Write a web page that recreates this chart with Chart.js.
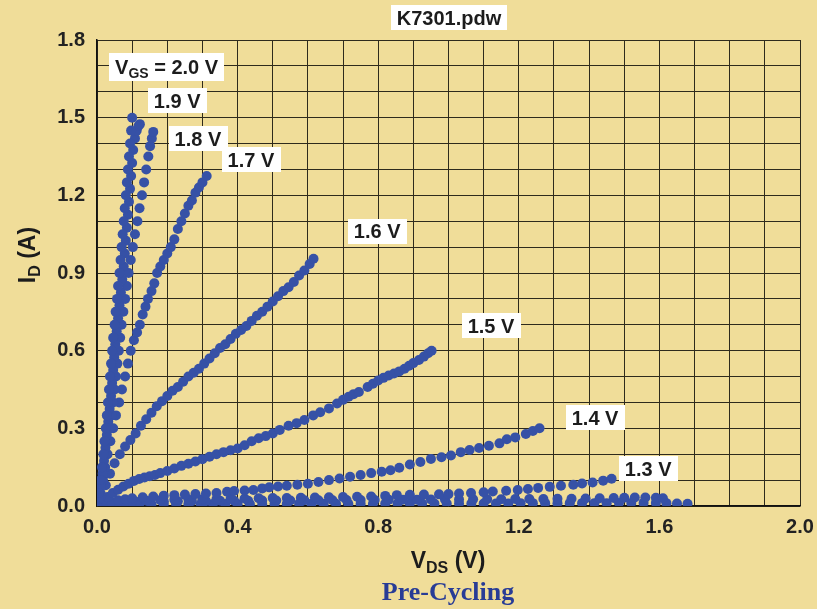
<!DOCTYPE html>
<html>
<head>
<meta charset="utf-8">
<script src="https://cdn.jsdelivr.net/npm/chart.js@4.4.1/dist/chart.umd.min.js"></script>
<style>
  html, body { margin: 0; padding: 0; background: #f0dd99; }
  canvas { display: block; }
</style>
</head>
<body>
<canvas id="chart" width="817" height="609"></canvas>
<script>
// I-V curves, [V_DS (V), I_D (A)]
const vgs20 = [[0,0],[0.006,0.05],[0.01,0.1],[0.014,0.15],[0.018,0.2],[0.021,0.25],[0.025,0.3],[0.028,0.35],[0.031,0.4],[0.034,0.45],[0.037,0.5],[0.04,0.55],[0.043,0.6],[0.046,0.65],[0.05,0.7],[0.053,0.75],[0.057,0.8],[0.06,0.85],[0.064,0.9],[0.067,0.95],[0.07,1.0],[0.073,1.05],[0.076,1.1],[0.079,1.15],[0.082,1.2],[0.085,1.25],[0.088,1.3],[0.091,1.35],[0.094,1.4],[0.097,1.45],[0.1,1.5]];
const vgs19 = [[0,0],[0.005,0.025],[0.011,0.075],[0.016,0.125],[0.02,0.175],[0.024,0.225],[0.028,0.275],[0.032,0.325],[0.036,0.375],[0.04,0.425],[0.043,0.475],[0.046,0.525],[0.049,0.575],[0.052,0.625],[0.056,0.675],[0.06,0.725],[0.064,0.775],[0.068,0.825],[0.072,0.875],[0.076,0.925],[0.079,0.975],[0.082,1.025],[0.085,1.075],[0.088,1.125],[0.091,1.175],[0.094,1.225],[0.097,1.275],[0.1,1.325],[0.103,1.375],[0.108,1.42],[0.113,1.45],[0.118,1.468],[0.122,1.475]];
const vgs18 = [[0,0],[0.01,0.05],[0.017,0.1],[0.023,0.15],[0.028,0.2],[0.033,0.25],[0.038,0.3],[0.042,0.35],[0.046,0.4],[0.05,0.45],[0.054,0.5],[0.058,0.55],[0.062,0.6],[0.066,0.65],[0.07,0.7],[0.075,0.75],[0.08,0.8],[0.085,0.85],[0.09,0.9],[0.096,0.95],[0.102,1.0],[0.108,1.05],[0.115,1.1],[0.121,1.15],[0.128,1.2],[0.134,1.25],[0.14,1.3],[0.146,1.35],[0.151,1.39],[0.156,1.42],[0.16,1.445]];
const vgs17 = [[0,0],[0.008,0.05],[0.015,0.1],[0.022,0.15],[0.03,0.2],[0.038,0.25],[0.046,0.3],[0.054,0.35],[0.063,0.4],[0.071,0.45],[0.08,0.5],[0.088,0.55],[0.096,0.6],[0.105,0.64],[0.114,0.67],[0.122,0.7],[0.13,0.74],[0.138,0.77],[0.145,0.8],[0.155,0.83],[0.163,0.86],[0.171,0.9],[0.18,0.925],[0.19,0.95],[0.2,0.975],[0.21,1.0],[0.22,1.03],[0.23,1.07],[0.24,1.1],[0.25,1.13],[0.26,1.16],[0.27,1.18],[0.28,1.21],[0.29,1.23],[0.3,1.25],[0.312,1.275]];
const vgs16 = [[0,0],[0.012,0.04],[0.025,0.08],[0.037,0.125],[0.05,0.165],[0.065,0.2],[0.08,0.23],[0.095,0.255],[0.11,0.28],[0.125,0.31],[0.14,0.335],[0.155,0.36],[0.17,0.385],[0.185,0.405],[0.2,0.425],[0.215,0.445],[0.23,0.46],[0.245,0.48],[0.26,0.5],[0.275,0.515],[0.29,0.53],[0.305,0.55],[0.32,0.57],[0.335,0.59],[0.35,0.61],[0.365,0.625],[0.38,0.645],[0.395,0.665],[0.41,0.68],[0.425,0.695],[0.44,0.715],[0.455,0.735],[0.47,0.75],[0.485,0.77],[0.5,0.79],[0.515,0.81],[0.53,0.83],[0.545,0.845],[0.56,0.865],[0.575,0.89],[0.59,0.91],[0.605,0.935],[0.616,0.955]];
const vgs15 = [[0,0],[0.015,0.02],[0.03,0.035],[0.045,0.05],[0.06,0.063],[0.075,0.075],[0.09,0.086],[0.105,0.097],[0.12,0.104],[0.135,0.11],[0.15,0.115],[0.165,0.12],[0.18,0.127],[0.2,0.135],[0.22,0.145],[0.24,0.155],[0.26,0.163],[0.28,0.172],[0.3,0.181],[0.32,0.19],[0.34,0.2],[0.36,0.208],[0.38,0.215],[0.4,0.222],[0.42,0.235],[0.44,0.25],[0.46,0.262],[0.48,0.27],[0.5,0.28],[0.52,0.294],[0.545,0.31],[0.568,0.32],[0.59,0.332],[0.615,0.35],[0.635,0.362],[0.66,0.377],[0.683,0.396],[0.7,0.41],[0.716,0.422],[0.73,0.432],[0.745,0.44],[0.77,0.46],[0.785,0.472],[0.8,0.485],[0.815,0.495],[0.83,0.504],[0.845,0.512],[0.86,0.52],[0.875,0.53],[0.888,0.542],[0.9,0.552],[0.916,0.564],[0.93,0.577],[0.942,0.59],[0.952,0.6]];
const vgs14 = [[0,0],[0.02,0.01],[0.04,0.016],[0.06,0.022],[0.08,0.026],[0.1,0.03],[0.13,0.034],[0.16,0.037],[0.19,0.04],[0.22,0.042],[0.25,0.044],[0.28,0.046],[0.31,0.048],[0.34,0.05],[0.37,0.055],[0.39,0.058],[0.42,0.06],[0.445,0.062],[0.47,0.068],[0.49,0.072],[0.515,0.075],[0.54,0.078],[0.57,0.082],[0.6,0.086],[0.63,0.093],[0.66,0.1],[0.69,0.106],[0.72,0.113],[0.75,0.12],[0.78,0.127],[0.81,0.132],[0.835,0.138],[0.86,0.148],[0.89,0.16],[0.92,0.17],[0.95,0.182],[0.98,0.188],[1.007,0.195],[1.035,0.208],[1.06,0.216],[1.087,0.224],[1.115,0.233],[1.145,0.242],[1.166,0.258],[1.19,0.265],[1.22,0.278],[1.24,0.29],[1.259,0.3]];
const vgs13 = [[0,0],[0.03,0.01],[0.06,0.015],[0.1,0.018],[0.14,0.02],[0.18,0.022],[0.22,0.024],[0.26,0.025],[0.3,0.026],[0.34,0.027],[0.38,0.028],[0.42,0.029],[0.46,0.03],[0.5,0.031],[0.54,0.031],[0.58,0.032],[0.62,0.033],[0.66,0.034],[0.7,0.035],[0.74,0.036],[0.78,0.037],[0.82,0.039],[0.853,0.042],[0.89,0.043],[0.93,0.044],[0.973,0.045],[1.0,0.046],[1.03,0.048],[1.064,0.05],[1.1,0.053],[1.126,0.056],[1.164,0.059],[1.197,0.062],[1.226,0.066],[1.255,0.07],[1.288,0.074],[1.32,0.078],[1.355,0.082],[1.38,0.087],[1.41,0.091],[1.44,0.098],[1.464,0.105]];
const vgs12 = [[0,0],[0.02,0.008],[0.05,0.012],[0.08,0.015],[0.11,0.016],[0.15,0.017],[0.19,0.018],[0.23,0.018],[0.27,0.019],[0.31,0.019],[0.35,0.02],[0.39,0.02],[0.43,0.02],[0.47,0.021],[0.51,0.021],[0.55,0.021],[0.59,0.022],[0.63,0.022],[0.67,0.022],[0.71,0.023],[0.75,0.023],[0.79,0.023],[0.83,0.024],[0.87,0.024],[0.91,0.024],[0.95,0.025],[0.99,0.025],[1.03,0.025],[1.07,0.026],[1.11,0.026],[1.15,0.026],[1.19,0.027],[1.23,0.027],[1.27,0.027],[1.31,0.028],[1.35,0.028],[1.39,0.029],[1.43,0.03],[1.47,0.031],[1.5,0.032],[1.53,0.033],[1.56,0.033],[1.59,0.032],[1.61,0.03]];
const vgs11 = [[0,0],[0.03,0.005],[0.06,0.006],[0.09,0.007],[0.12,0.007],[0.155,0.007],[0.19,0.008],[0.225,0.008],[0.26,0.008],[0.295,0.008],[0.33,0.008],[0.365,0.008],[0.4,0.008],[0.435,0.008],[0.47,0.008],[0.505,0.009],[0.54,0.009],[0.575,0.009],[0.61,0.009],[0.645,0.009],[0.68,0.009],[0.715,0.009],[0.75,0.009],[0.785,0.009],[0.82,0.01],[0.855,0.01],[0.89,0.01],[0.925,0.01],[0.96,0.01],[0.995,0.01],[1.03,0.01],[1.065,0.01],[1.1,0.01],[1.135,0.01],[1.17,0.01],[1.205,0.011],[1.24,0.011],[1.275,0.011],[1.31,0.011],[1.345,0.011],[1.38,0.011],[1.415,0.011],[1.45,0.011],[1.485,0.012],[1.52,0.012],[1.555,0.012],[1.59,0.012],[1.62,0.011],[1.65,0.01],[1.68,0.009]];

const curves = [vgs20, vgs19, vgs18, vgs17, vgs16, vgs15, vgs14, vgs13, vgs12, vgs11];

// curve labels and where their boxes sit (data units)
const labelText = ['2.0 V', '1.9 V', '1.8 V', '1.7 V', '1.6 V', '1.5 V', '1.4 V', '1.3 V'];
const labelVds = [0.198, 0.228, 0.287, 0.438, 0.797, 1.121, 1.417, 1.568];
const labelId = [1.697, 1.566, 1.419, 1.338, 1.062, 0.697, 0.342, 0.145];

const xMin = 0, xMax = 2.0, xGrid = 0.1, xLabelStep = 0.4;
const yMin = 0, yMax = 1.8, yGrid = 0.1, yLabelStep = 0.3;

const SANS = '"Liberation Sans", Arial, sans-serif';
const DOT = '#3651a6';

function isMultiple(v, step) {
  const r = v / step;
  return Math.abs(r - Math.round(r)) < 1e-6;
}

// draw text made of normal + subscript pieces, left aligned at baseline y
function partsWidth(ctx, parts, size) {
  let w = 0;
  parts.forEach(p => {
    ctx.font = `bold ${p.sub ? Math.round(size * 0.7) : size}px ${SANS}`;
    w += ctx.measureText(p.text).width;
  });
  return w;
}
function drawParts(ctx, parts, x, y, size) {
  parts.forEach(p => {
    ctx.font = `bold ${p.sub ? Math.round(size * 0.7) : size}px ${SANS}`;
    ctx.fillText(p.text, x, p.sub ? y + size * 0.22 : y);
    x += ctx.measureText(p.text).width;
  });
}
function boxLabel(ctx, parts, cx, cy, size, h) {
  const w = partsWidth(ctx, parts, size) + 12;
  ctx.fillStyle = '#ffffff';
  ctx.fillRect(Math.round(cx - w / 2), Math.round(cy - h / 2), Math.round(w), h);
  ctx.fillStyle = '#1c1c1c';
  ctx.textAlign = 'left';
  ctx.textBaseline = 'alphabetic';
  drawParts(ctx, parts, cx - w / 2 + 6, cy + size * 0.36, size);
}

const decor = {
  id: 'decor',
  beforeDraw(chart) {
    const ctx = chart.ctx;
    ctx.save();
    ctx.fillStyle = '#f0dd99';
    ctx.fillRect(0, 0, chart.width, chart.height);
    ctx.restore();
  },
  afterDatasetsDraw(chart) {
    const ctx = chart.ctx;
    const xs = chart.scales.x, ys = chart.scales.y;
    ctx.save();
    labelText.forEach((t, i) => {
      const cx = xs.getPixelForValue(labelVds[i]);
      const cy = ys.getPixelForValue(labelId[i]);
      if (i === 0) {
        boxLabel(ctx, [{ text: 'V' }, { text: 'GS', sub: true }, { text: ' = ' + t }], cx, cy, 20, 28);
      } else {
        boxLabel(ctx, [{ text: t }], cx, cy, 20, 25);
      }
    });
    ctx.restore();
  },
  afterDraw(chart) {
    const ctx = chart.ctx;
    ctx.save();
    // file name tag
    boxLabel(ctx, [{ text: 'K7301.pdw' }], 449, 17.5, 20, 25);

    // x axis title
    ctx.fillStyle = '#1c1c1c';
    const xt = [{ text: 'V' }, { text: 'DS', sub: true }, { text: ' (V)' }];
    const xw = partsWidth(ctx, xt, 23);
    drawParts(ctx, xt, 448 - xw / 2, 568, 23);

    // y axis title, rotated
    const yt = [{ text: 'I' }, { text: 'D', sub: true }, { text: ' (A)' }];
    const yw = partsWidth(ctx, yt, 23);
    ctx.translate(35, 255);
    ctx.rotate(-Math.PI / 2);
    drawParts(ctx, yt, -yw / 2, 0, 23);
    ctx.setTransform(1, 0, 0, 1, 0, 0);

    // caption
    ctx.fillStyle = '#283c96';
    ctx.font = 'bold 26px "Liberation Serif", "Times New Roman", serif';
    ctx.textAlign = 'center';
    ctx.fillText('Pre-Cycling', 448, 600);
    ctx.restore();
  }
};

new Chart(document.getElementById('chart'), {
  type: 'scatter',
  data: {
    datasets: curves.map((c, i) => ({
      label: 'curve ' + i,
      data: c.map(p => ({ x: p[0], y: p[1] })),
      backgroundColor: DOT,
      borderColor: DOT,
      borderWidth: 0,
      pointRadius: 5,
      showLine: false
    }))
  },
  options: {
    responsive: false,
    animation: false,
    layout: { padding: { left: 0, top: 40, right: 17, bottom: 0 } },
    plugins: { legend: { display: false }, tooltip: { enabled: false } },
    scales: {
      x: {
        type: 'linear',
        min: xMin,
        max: xMax,
        afterFit: s => { s.height = 103; s.paddingLeft = 0; s.paddingRight = 0; },
        grid: { color: '#2e2a1c', lineWidth: 1, drawTicks: false },
        border: { color: '#111', width: 1.5 },
        ticks: {
          stepSize: xGrid,
          autoSkip: false,
          maxRotation: 0,
          padding: 9,
          color: '#222',
          font: { family: SANS, size: 20, weight: 'bold' },
          callback: v => isMultiple(v, xLabelStep) ? v.toFixed(1) : ''
        }
      },
      y: {
        type: 'linear',
        min: yMin,
        max: yMax,
        afterFit: s => { s.width = 97; s.paddingTop = 0; s.paddingBottom = 0; },
        grid: { color: '#2e2a1c', lineWidth: 1, drawTicks: false },
        border: { color: '#111', width: 1.5 },
        ticks: {
          stepSize: yGrid,
          autoSkip: false,
          padding: 12,
          color: '#222',
          font: { family: SANS, size: 20, weight: 'bold' },
          callback: v => isMultiple(v, yLabelStep) ? v.toFixed(1) : ''
        }
      }
    }
  },
  plugins: [decor]
});
</script>
</body>
</html>
